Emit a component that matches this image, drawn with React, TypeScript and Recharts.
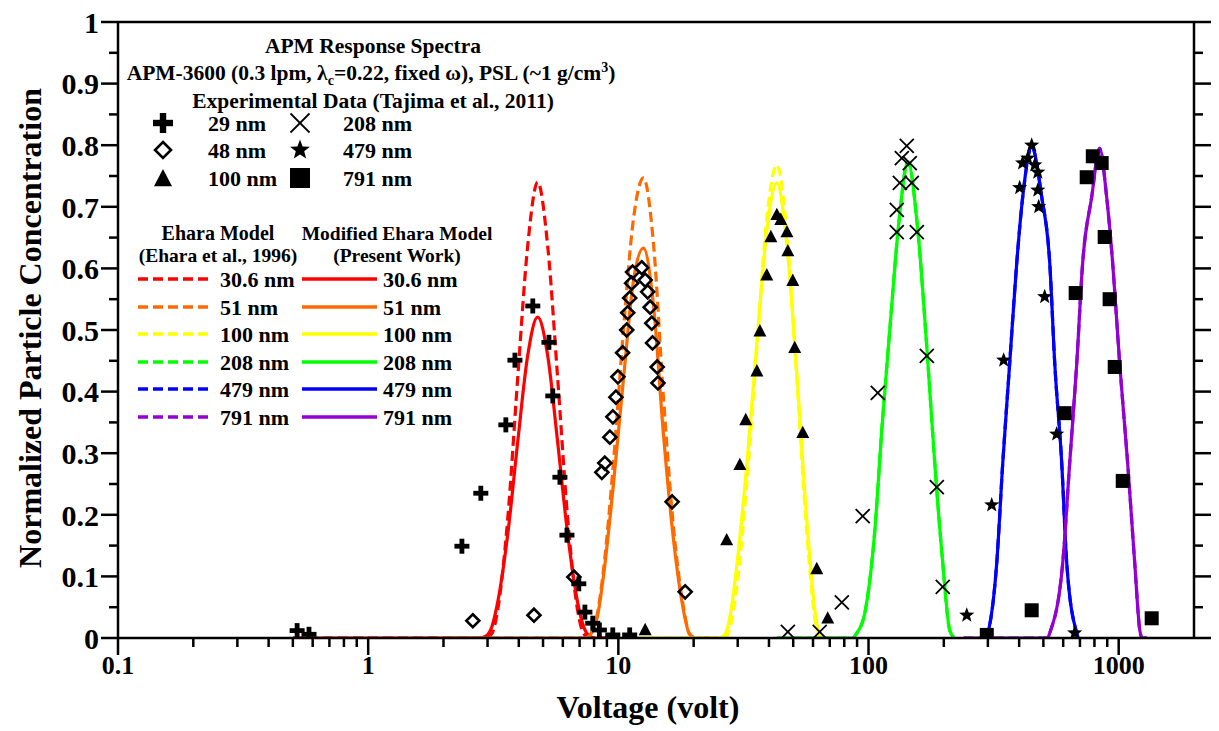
import React from 'react';
import { ComposedChart, Line, Scatter, XAxis, YAxis, Label } from 'recharts';

const FONT = '"Liberation Serif", "Times New Roman", serif';

// axis ticks
const xMajor = [0.1, 1, 10, 100, 1000];
const xTicks = [
  0.1, 0.2, 0.3, 0.4, 0.5, 0.6, 0.7, 0.8, 0.9,
  1, 2, 3, 4, 5, 6, 7, 8, 9,
  10, 20, 30, 40, 50, 60, 70, 80, 90,
  100, 200, 300, 400, 500, 600, 700, 800, 900,
  1000,
];
const yTicks = [0, 0.05, 0.1, 0.15, 0.2, 0.25, 0.3, 0.35, 0.4, 0.45, 0.5, 0.55, 0.6, 0.65, 0.7, 0.75, 0.8, 0.85, 0.9, 0.95, 1];

// model curves (voltage, normalized concentration)
const redV = [0.5, 2.79, 2.95, 3.12, 3.29, 3.61, 3.96, 4.34, 4.76, 5.22, 5.72, 6.28, 6.88, 7.27, 7.68, 8.12, 9.0];
const redEhara = [0, 0, 0, 0.007, 0.044, 0.192, 0.422, 0.636, 0.74, 0.636, 0.422, 0.192, 0.044, 0.007, 0, 0, 0];
const redModified = [0, 0, 0.003, 0.018, 0.057, 0.167, 0.318, 0.458, 0.521, 0.458, 0.318, 0.167, 0.057, 0.018, 0.003, 0, 0];

const orangeV = [2.0, 7.38, 7.8, 8.25, 8.72, 9.56, 10.48, 11.49, 12.6, 13.82, 15.15, 16.61, 18.21, 19.25, 20.34, 25];
const orangeEhara = [0, 0, 0.008, 0.04, 0.11, 0.285, 0.5, 0.68, 0.747, 0.64, 0.39, 0.18, 0.05, 0.007, 0, 0];
const orangeModified = [0, 0, 0.008, 0.035, 0.1, 0.25, 0.42, 0.58, 0.633, 0.54, 0.33, 0.16, 0.045, 0.006, 0, 0];

const yellowV = [11.6, 25.2, 26.6, 28.1, 29.7, 32.6, 35.8, 39.2, 43, 47.1, 51.7, 56.7, 62.2, 65.7, 73.4];
const yellowEhara = [0, 0, 0, 0.02, 0.08, 0.25, 0.47, 0.68, 0.768, 0.66, 0.42, 0.17, 0.015, 0, 0];
const yellowModified = [0, 0, 0.005, 0.04, 0.115, 0.28, 0.48, 0.66, 0.739, 0.64, 0.43, 0.19, 0.022, 0, 0];

const greenV = [43, 86, 89.8, 96.6, 106, 113, 121.6, 133.4, 143.6, 157.4, 171, 184, 198, 211, 220];
const greenCurve = [0, 0, 0.008, 0.04, 0.175, 0.338, 0.5, 0.69, 0.773, 0.662, 0.472, 0.284, 0.122, 0.013, 0];

const blueV = [294, 299.6, 325.5, 344, 366.7, 391.3, 413.4, 449.3, 492.5, 530.1, 555.1, 592, 619.8, 679.8, 690];
const blueCurve = [0, 0.008, 0.122, 0.284, 0.446, 0.609, 0.716, 0.797, 0.716, 0.609, 0.446, 0.284, 0.122, 0.008, 0];

const purpleV = [240, 520, 530, 597.5, 637, 679.8, 717.8, 780, 839.5, 895, 946, 1009, 1086, 1159, 1214, 1240, 1300];
const purpleCurve = [0, 0, 0.008, 0.122, 0.284, 0.446, 0.609, 0.716, 0.795, 0.716, 0.609, 0.446, 0.284, 0.122, 0.013, 0, 0];

// experimental data (Tajima et al., 2011)
const exp29V = [0.52, 0.58, 2.37, 2.82, 3.55, 3.86, 4.55, 5.28, 5.47, 5.84, 6.23, 6.95, 7.35, 7.9, 8.4, 9.5, 11.1];
const exp29Y = [0.012, 0.006, 0.149, 0.235, 0.346, 0.451, 0.539, 0.48, 0.393, 0.261, 0.167, 0.088, 0.042, 0.024, 0.013, 0.005, 0.005];

const exp48V = [2.62, 4.6, 6.64, 8.59, 8.83, 9.25, 9.51, 9.78, 9.96, 10.4, 10.8, 10.9, 11.1, 11.3, 11.4, 12.4, 12.8, 13.1, 13.4, 13.6, 13.7, 14.3, 14.4, 16.4, 18.5];
const exp48Y = [0.028, 0.037, 0.099, 0.269, 0.284, 0.326, 0.359, 0.391, 0.424, 0.463, 0.5, 0.528, 0.552, 0.576, 0.594, 0.601, 0.581, 0.562, 0.537, 0.511, 0.479, 0.44, 0.414, 0.221, 0.075];

const exp100V = [12.8, 27.1, 30.6, 32.3, 35.8, 36.8, 39.2, 40.7, 43.0, 44.6, 47.2, 47.6, 49.8, 50.7, 54.6, 62.1, 68.7];
const exp100Y = [0.013, 0.159, 0.281, 0.354, 0.433, 0.498, 0.589, 0.651, 0.687, 0.679, 0.659, 0.628, 0.58, 0.471, 0.333, 0.112, 0.032];

const exp208V = [47.6, 63.8, 78.2, 94.8, 108.9, 129.7, 129.7, 133.4, 135.9, 142.2, 146.2, 148.9, 156, 171, 187.5, 198];
const exp208Y = [0.01, 0.01, 0.058, 0.198, 0.398, 0.659, 0.695, 0.739, 0.779, 0.799, 0.771, 0.739, 0.659, 0.458, 0.245, 0.083];

const exp479V = [247, 310.8, 347, 402, 413, 433, 449, 462, 475, 475, 479, 506, 565, 667];
const exp479Y = [0.037, 0.216, 0.451, 0.731, 0.771, 0.779, 0.8, 0.768, 0.756, 0.727, 0.7, 0.554, 0.331, 0.008];

const exp791V = [297, 449, 608, 673, 745, 788, 855, 879, 920, 964, 1038, 1355];
const exp791Y = [0.005, 0.045, 0.365, 0.56, 0.748, 0.782, 0.771, 0.651, 0.55, 0.44, 0.255, 0.032];

const toPts = (vs: number[], ys: number[]) => vs.map((v, i) => ({ v, y: ys[i] }));

const COLORS = {
  red: '#ff0000',
  orange: '#ff6a00',
  yellow: '#ffff00',
  green: '#00ff00',
  blue: '#0000ff',
  purple: '#9400d3',
};

// markers
const PlusMark = ({ cx, cy, s = 15 }: any) => {
  const t = s * 0.32;
  return (
    <g>
      <rect x={cx - s / 2} y={cy - t / 2} width={s} height={t} fill="#000" />
      <rect x={cx - t / 2} y={cy - s / 2} width={t} height={s} fill="#000" />
    </g>
  );
};
const DiamondMark = ({ cx, cy, s = 13 }: any) => (
  <polygon
    points={`${cx},${cy - s / 2} ${cx + s / 2},${cy} ${cx},${cy + s / 2} ${cx - s / 2},${cy}`}
    fill="none" stroke="#000" strokeWidth={2.6}
  />
);
const TriangleMark = ({ cx, cy, s = 13 }: any) => (
  <polygon
    points={`${cx},${cy - s * 0.55} ${cx + s / 2},${cy + s * 0.4} ${cx - s / 2},${cy + s * 0.4}`}
    fill="#000"
  />
);
const CrossMark = ({ cx, cy, s = 14 }: any) => (
  <g stroke="#000" strokeWidth={1.8}>
    <line x1={cx - s / 2} y1={cy - s / 2} x2={cx + s / 2} y2={cy + s / 2} />
    <line x1={cx - s / 2} y1={cy + s / 2} x2={cx + s / 2} y2={cy - s / 2} />
  </g>
);
const StarMark = ({ cx, cy, s = 16 }: any) => {
  const pts: string[] = [];
  for (let i = 0; i < 10; i++) {
    const r = i % 2 === 0 ? s / 2 : s * 0.21;
    const a = -Math.PI / 2 + (i * Math.PI) / 5;
    pts.push(`${cx + r * Math.cos(a)},${cy + r * Math.sin(a)}`);
  }
  return <polygon points={pts.join(' ')} fill="#000" />;
};
const SquareMark = ({ cx, cy, s = 14 }: any) => (
  <rect x={cx - s / 2} y={cy - s / 2} width={s} height={s} fill="#000" />
);

// axis ticks
const BottomTick = ({ x, y, payload }: any) => {
  const major = xMajor.includes(payload.value);
  return (
    <g>
      <line x1={x} x2={x} y1={y} y2={y + (major ? 17 : 9)} stroke="#000" strokeWidth={2.5} />
      {major && (
        <text x={x} y={y + 36} textAnchor="middle" fontFamily={FONT} fontWeight="bold" fontSize={26} fill="#000">
          {payload.value}
        </text>
      )}
    </g>
  );
};
const TopTick = ({ x, y, payload }: any) => {
  const major = xMajor.includes(payload.value);
  return <line x1={x} x2={x} y1={y} y2={y - (major ? 17 : 9)} stroke="#000" strokeWidth={2.5} />;
};
const isMajorY = (v: number) => Math.abs(v * 10 - Math.round(v * 10)) < 1e-6;
const LeftTick = ({ x, y, payload }: any) => {
  const major = isMajorY(payload.value);
  return (
    <g>
      <line x1={x} x2={x - (major ? 17 : 9)} y1={y} y2={y} stroke="#000" strokeWidth={2.5} />
      {major && (
        <text x={x - 19} y={y} dy="0.36em" textAnchor="end" fontFamily={FONT} fontWeight="bold" fontSize={30} fill="#000">
          {payload.value}
        </text>
      )}
    </g>
  );
};
const RightTick = ({ x, y, payload }: any) => {
  const major = isMajorY(payload.value);
  return <line x1={x} x2={x + (major ? 17 : 9)} y1={y} y2={y} stroke="#000" strokeWidth={2.5} />;
};

const modelRows = [
  { label: '30.6 nm', color: COLORS.red },
  { label: '51 nm', color: COLORS.orange },
  { label: '100 nm', color: COLORS.yellow },
  { label: '208 nm', color: COLORS.green },
  { label: '479 nm', color: COLORS.blue },
  { label: '791 nm', color: COLORS.purple },
];

const T = (props: any) => (
  <text fontFamily={FONT} fontWeight="bold" fill="#000" dy="0.35em" {...props} />
);

// legend and annotation block, drawn in page pixels minus the left body margin
function LegendOverlay() {
  const rowY = [279, 307, 334, 362, 389, 417];
  return (
    <svg width={1211} height={728} style={{ position: 'absolute', left: 0, top: 0, pointerEvents: 'none' }}>
      <T x={365} y={45} textAnchor="middle" fontSize={21.5}>APM Response Spectra</T>
      <T x={363} y={72} textAnchor="middle" fontSize={21.5}>
        APM-3600 (0.3 lpm, λ<tspan dy="5" fontSize={14}>c</tspan><tspan dy="-5">=0.22, fixed ω), PSL (~1 g/cm</tspan>
        <tspan dy="-8" fontSize={14}>3</tspan><tspan dy="8">)</tspan>
      </T>
      <T x={365} y={100} textAnchor="middle" fontSize={21.5}>Experimental Data (Tajima et al., 2011)</T>

      <PlusMark cx={155} cy={123} s={20} />
      <T x={200} y={123} fontSize={22}>29 nm</T>
      <DiamondMark cx={155} cy={150} s={16} />
      <T x={200} y={150} fontSize={22}>48 nm</T>
      <TriangleMark cx={155} cy={179} s={18} />
      <T x={200} y={178} fontSize={22}>100 nm</T>
      <CrossMark cx={292} cy={123} s={19} />
      <T x={335} y={123} fontSize={22}>208 nm</T>
      <StarMark cx={292} cy={150} s={21} />
      <T x={335} y={150} fontSize={22}>479 nm</T>
      <SquareMark cx={292} cy={178} s={20} />
      <T x={335} y={178} fontSize={22}>791 nm</T>

      <T x={210} y={233} textAnchor="middle" fontSize={20}>Ehara Model</T>
      <T x={210} y={255} textAnchor="middle" fontSize={19.5}>(Ehara et al., 1996)</T>
      <T x={389} y={233} textAnchor="middle" fontSize={19.5}>Modified Ehara Model</T>
      <T x={389} y={255} textAnchor="middle" fontSize={19.5}>(Present Work)</T>

      {modelRows.map((r, i) => (
        <g key={r.label}>
          <line x1={130} x2={202} y1={rowY[i]} y2={rowY[i]} stroke={r.color} strokeWidth={3.5} strokeDasharray="10 5" />
          <T x={212} y={rowY[i]} fontSize={22}>{r.label}</T>
          <line x1={294} x2={369} y1={rowY[i]} y2={rowY[i]} stroke={r.color} strokeWidth={3.5} />
          <T x={375} y={rowY[i]} fontSize={22}>{r.label}</T>
        </g>
      ))}
    </svg>
  );
}

const curves = [
  { v: redV, dashed: redEhara, solid: redModified, color: COLORS.red },
  { v: orangeV, dashed: orangeEhara, solid: orangeModified, color: COLORS.orange },
  { v: yellowV, dashed: yellowEhara, solid: yellowModified, color: COLORS.yellow },
  { v: greenV, dashed: greenCurve, solid: greenCurve, color: COLORS.green },
  { v: blueV, dashed: blueCurve, solid: blueCurve, color: COLORS.blue },
  { v: purpleV, dashed: purpleCurve, solid: purpleCurve, color: COLORS.purple },
];

const experiments = [
  { v: exp29V, y: exp29Y, Mark: PlusMark },
  { v: exp48V, y: exp48Y, Mark: DiamondMark },
  { v: exp100V, y: exp100Y, Mark: TriangleMark },
  { v: exp208V, y: exp208Y, Mark: CrossMark },
  { v: exp479V, y: exp479Y, Mark: StarMark },
  { v: exp791V, y: exp791Y, Mark: SquareMark },
];

export default function App() {
  return (
    <div style={{ position: 'relative', width: 1205, height: 728, marginTop: -8 }}>
      <ComposedChart width={1205} height={728} margin={{ top: 0, right: 0, bottom: 0, left: 0 }}>
        <XAxis
          dataKey="v"
          type="number"
          scale="log"
          domain={[0.1, 2000]}
          allowDataOverflow
          ticks={xTicks}
          interval={0}
          height={90}
          tickSize={0}
          tickMargin={0}
          tickLine={false}
          tick={<BottomTick />}
          axisLine={{ stroke: '#000', strokeWidth: 2.5 }}
        >
          <Label
            content={() => (
              <text x={640} y={718} textAnchor="middle" fontFamily={FONT} fontWeight="bold" fontSize={32} fill="#000">
                Voltage (volt)
              </text>
            )}
          />
        </XAxis>
        <XAxis
          xAxisId="top"
          orientation="top"
          type="number"
          scale="log"
          domain={[0.1, 2000]}
          allowDataOverflow
          ticks={xTicks}
          interval={0}
          height={22}
          tickSize={0}
          tickMargin={0}
          tickLine={false}
          tick={<TopTick />}
          axisLine={{ stroke: '#000', strokeWidth: 2.5 }}
        />
        <YAxis
          dataKey="y"
          type="number"
          domain={[0, 1]}
          allowDataOverflow
          ticks={yTicks}
          interval={0}
          width={110}
          tickSize={0}
          tickMargin={0}
          tickLine={false}
          tick={<LeftTick />}
          axisLine={{ stroke: '#000', strokeWidth: 2.5 }}
        >
          <Label
            content={() => (
              <text
                x={0}
                y={0}
                transform="translate(33, 328) rotate(-90)"
                textAnchor="middle"
                fontFamily={FONT}
                fontWeight="bold"
                fontSize={32}
                fill="#000"
              >
                Normalized Particle Concentration
              </text>
            )}
          />
        </YAxis>
        <YAxis
          yAxisId="right"
          orientation="right"
          type="number"
          domain={[0, 1]}
          allowDataOverflow
          ticks={yTicks}
          interval={0}
          width={19}
          tickSize={0}
          tickMargin={0}
          tickLine={false}
          tick={<RightTick />}
          axisLine={{ stroke: '#000', strokeWidth: 2.5 }}
        />

        {curves.flatMap((c, i) => [
          <Line
            key={`d${i}`}
            data={toPts(c.v, c.dashed)}
            dataKey="y"
            type="monotone"
            stroke={c.color}
            strokeWidth={3.2}
            strokeDasharray="10 5"
            dot={false}
            isAnimationActive={false}
          />,
          <Line
            key={`s${i}`}
            data={toPts(c.v, c.solid)}
            dataKey="y"
            type="monotone"
            stroke={c.color}
            strokeWidth={3.2}
            dot={false}
            isAnimationActive={false}
          />,
        ])}

        {experiments.map((e, i) => (
          <Scatter
            key={`e${i}`}
            data={toPts(e.v, e.y)}
            dataKey="y"
            shape={(p: any) => <e.Mark cx={p.cx} cy={p.cy} />}
            isAnimationActive={false}
          />
        ))}
      </ComposedChart>
      <LegendOverlay />
    </div>
  );
}
